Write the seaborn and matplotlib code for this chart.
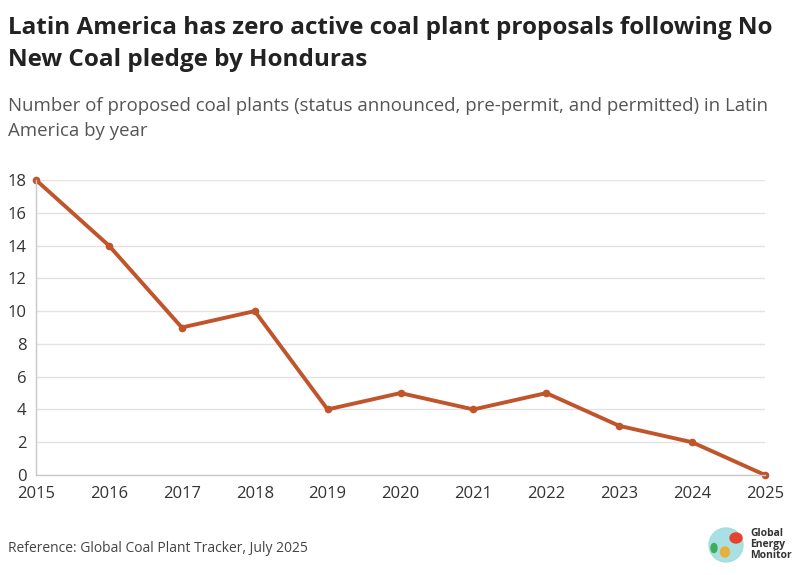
import matplotlib
matplotlib.use("Agg")
import matplotlib.pyplot as plt
from matplotlib.patches import Ellipse
import seaborn as sns
import pandas as pd

years = [2015, 2016, 2017, 2018, 2019, 2020, 2021, 2022, 2023, 2024, 2025]
proposed_plants = [18, 14, 9, 10, 4, 5, 4, 5, 3, 2, 0]
y_ticks = [0, 2, 4, 6, 8, 10, 12, 14, 16, 18]

title = "Latin America has zero active coal plant proposals following No\nNew Coal pledge by Honduras"
subtitle = "Number of proposed coal plants (status announced, pre-permit, and permitted) in Latin\nAmerica by year"
source = "Reference: Global Coal Plant Tracker, July 2025"

df = pd.DataFrame({"year": years, "plants": proposed_plants})

sns.set_style("white")
plt.rcParams["font.family"] = ["Open Sans", "DejaVu Sans"]

line_color = "#c0542b"
grid_color = "#e3e3e3"
axis_color = "#c8c8c8"
text_color = "#333333"

W, H = 795, 575
fig = plt.figure(figsize=(W / 100, H / 100), dpi=100)
ax = fig.add_axes([36 / W, 1 - 475 / H, (765 - 36) / W, (475 - 180) / H])

sns.lineplot(data=df, x="year", y="plants", ax=ax, color=line_color,
             linewidth=2.8, marker="o", markersize=5.5, markeredgewidth=0,
             clip_on=False)

ax.set_xlim(years[0], years[-1])
ax.set_ylim(0, 18)
ax.set_xticks(years)
ax.set_yticks(y_ticks)
ax.set_xlabel("")
ax.set_ylabel("")
ax.grid(axis="y", color=grid_color, linewidth=1)
ax.grid(axis="x", visible=False)
ax.set_axisbelow(True)

for side in ["top", "right"]:
    ax.spines[side].set_visible(False)
for side in ["left", "bottom"]:
    ax.spines[side].set_color(axis_color)
    ax.spines[side].set_linewidth(1)

ax.tick_params(axis="both", length=5, width=1, color=axis_color,
               labelsize=12, labelcolor=text_color)
ax.tick_params(axis="y", pad=2)
ax.tick_params(axis="x", pad=3)

fig.text(8 / W, 1 - 16 / H, title, ha="left", va="top", fontsize=17.5,
         fontweight="bold", color="#222222", linespacing=1.42)
fig.text(8 / W, 1 - 97 / H, subtitle, ha="left", va="top", fontsize=13.4,
         color="#555555", linespacing=1.5)
fig.text(8 / W, 1 - 548 / H, source, ha="left", va="center", fontsize=10,
         color="#444444")

# logo
fig.text(750 / W, 1 - 545 / H, "Global\nEnergy\nMonitor", ha="left",
         va="center", fontsize=7.5, fontweight="bold", color="#333333",
         linespacing=1.0)
fig.patches.append(Ellipse((726 / W, 1 - 545 / H), 34 / W, 34 / H,
                           color="#9fdde0", transform=fig.transFigure,
                           figure=fig, alpha=0.9))
fig.patches.append(Ellipse((736 / W, 1 - 538 / H), 12 / W, 10 / H,
                           color="#e8412c", transform=fig.transFigure, figure=fig))
fig.patches.append(Ellipse((725 / W, 1 - 552 / H), 9 / W, 10 / H,
                           color="#e8b03a", transform=fig.transFigure, figure=fig))
fig.patches.append(Ellipse((714 / W, 1 - 548 / H), 6 / W, 9 / H,
                           color="#3fae5a", transform=fig.transFigure, figure=fig))

fig.savefig("out.png", dpi=100)
